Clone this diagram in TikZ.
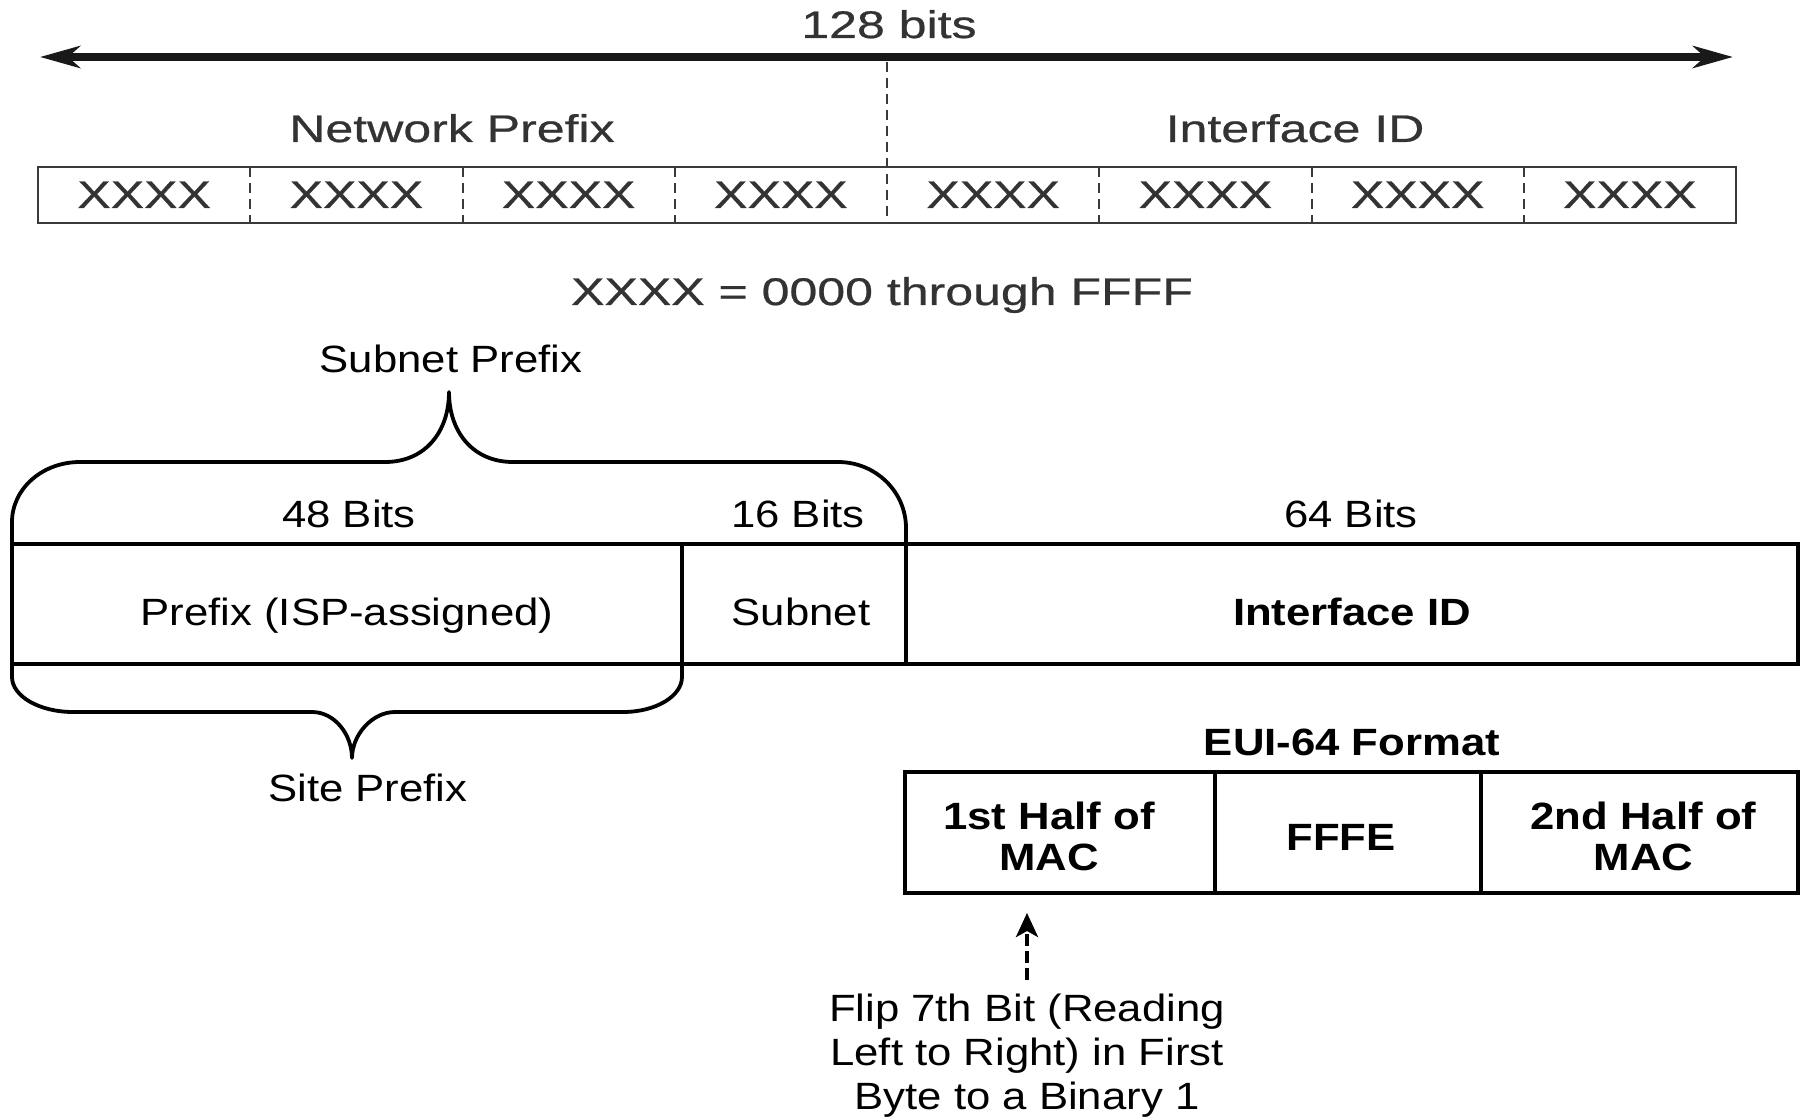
\documentclass[tikz,border=0pt]{standalone}
\usepackage{fontspec}
\setmainfont[FakeStretch=1.15]{Liberation Sans}
\newfontfamily\topfont[FakeStretch=1.3,FakeBold=0.6]{Liberation Sans}
\usetikzlibrary{arrows.meta}
\definecolor{topgray}{HTML}{333333}
\definecolor{boxgray}{HTML}{3A3A3A}
\begin{document}
\begin{tikzpicture}[x=0.5pt,y=-0.5pt,
  every node/.style={inner sep=0pt,outer sep=0pt},
  toptxt/.style={font=\topfont\fontsize{19.25}{22}\selectfont,text=topgray,anchor=base},
  txt/.style={font=\fontsize{19}{20}\selectfont,anchor=base},
  btxt/.style={font=\bfseries\fontsize{19}{20}\selectfont,anchor=base},
  fieldbox/.style={draw,line width=1.9pt,font=\fontsize{19}{20}\selectfont,text height=21pt,text depth=0pt,minimum height=60pt},
  euicell/.style={draw,line width=1.9pt,font=\bfseries\fontsize{19}{20.3}\selectfont,align=center,minimum height=60.5pt},
  dimarrow/.style={line width=3.7pt,draw=black!90,{Stealth[length=20pt,width=11pt,inset=6pt]}-{Stealth[length=20pt,width=11pt,inset=6pt]}},
  divline/.style={draw=boxgray,line width=1pt,dash pattern=on 5pt off 3pt},
  brace/.style={draw,line width=1.9pt,line join=round},
  fliparrow/.style={draw,line width=2pt,dash pattern=on 6pt off 2.5pt,-{Stealth[length=12pt,width=11pt,inset=3pt]},shorten <=7pt,shorten >=10pt}
]
\useasboundingbox (0,0) rectangle (1810,1117);
\fill[white] (0,0) rectangle (1810,1117);

% ---- top: 128-bit address ----
\coordinate (L) at (40,57);
\coordinate (R) at (1733,57);
\draw[dimarrow] (L) -- (R);
\node[toptxt] (bits) at (889,38) {128 bits};
\node[toptxt] (netp) at (452,142) {Network Prefix};
\node[toptxt] (ifid) at (1295,142) {Interface ID};
\node[draw=boxgray,line width=1pt,minimum width=849pt,minimum height=28pt] (addr) at (887,195) {};
\foreach \k in {1,2,3,5,6,7}{
  \draw[divline] ({38+212.25*\k},167) -- ({38+212.25*\k},223);
}
\coordinate (mid) at (887,62);
\draw[divline] (mid) -- (887,223);
\foreach \k in {0,...,7}{
  \node[toptxt] (x\k) at ({38+212.25*(\k+0.5)},208) {XXXX};
}
\node[toptxt] (range) at (882,305) {XXXX = 0000 through FFFF};

% ---- bottom: address structure ----
\node[txt] (subp) at (451,373) {Subnet Prefix};
\node[txt] (b48) at (349,527) {48 Bits};
\node[txt] (b16) at (798,527) {16 Bits};
\node[txt] (b64) at (1351,527) {64 Bits};

\node[fieldbox,minimum width=335pt] (pre) at (347,604) {Prefix (ISP-assigned)};
\node[fieldbox,minimum width=112pt] (sub) at (794,604) {\hspace*{7pt}Subnet};
\node[fieldbox,minimum width=446pt,font=\bfseries\fontsize{19}{20}\selectfont] (iid) at (1352,604) {Interface ID};

% upper brace (Subnet Prefix)
\draw[brace] (12,544) -- (12,522) .. controls (12,489) and (42,462) .. (80,462)
  -- (385,462) .. controls (425,462) and (449,432) .. (449,392)
  .. controls (449,432) and (473,462) .. (513,462)
  -- (838,462) .. controls (876,462) and (906,492) .. (906,528) -- (906,544);

% lower brace (Site Prefix)
\draw[brace] (12,664) -- (12,677) .. controls (12,696) and (39,712) .. (73,712)
  -- (312,712) .. controls (335,712) and (352,735) .. (352,758)
  .. controls (352,735) and (372,712) .. (395,712)
  -- (623,712) .. controls (656,712) and (682,696) .. (682,677) -- (682,664);

\node[txt] (sitep) at (368,801) {Site Prefix};

% ---- EUI-64 ----
\node[btxt] (euit) at (1352,755) {EUI-64 Format};
\node[euicell,minimum width=155pt] (mac1) at (1060,832.5) {\rule{0pt}{17.8pt}\hspace*{-11pt}1st Half of\\\hspace*{-11pt}MAC};
\node[euicell,minimum width=133pt] (fffe) at (1348,832.5) {\rule{0pt}{17.6pt}\hspace*{-7pt}FFFE};
\node[euicell,minimum width=158.5pt] (mac2) at (1639.5,832.5) {\rule{0pt}{17.8pt}\hspace*{4pt}2nd Half of\\\hspace*{4pt}MAC};

\node[font=\fontsize{19}{22}\selectfont,align=center,anchor=north] (flip) at (1027,994)
  {Flip 7th Bit (Reading\\Left to Right) in First\\Byte to a Binary 1};
\draw[fliparrow] (flip.north) -- (flip.north |- mac1.south);
\end{tikzpicture}
\end{document}
